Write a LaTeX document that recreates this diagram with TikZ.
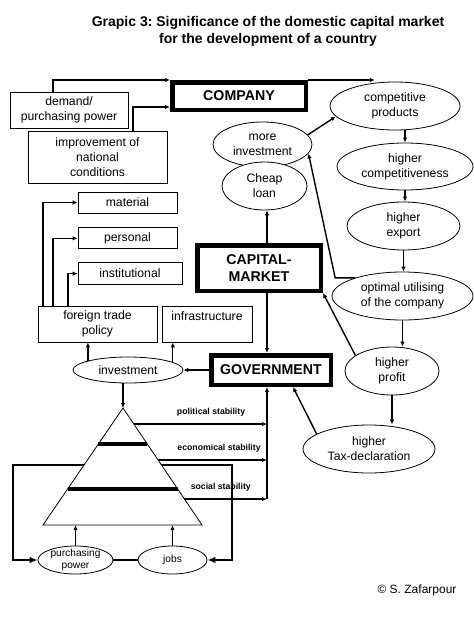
\documentclass[tikz,border=0pt]{standalone}
\usepackage{fontspec}
\setmainfont{Liberation Sans}
\usetikzlibrary{arrows.meta,positioning,shapes.geometric,calc}
\frenchspacing

\begin{document}
\begin{tikzpicture}[x=1pt,y=-1pt,>={Latex[length=5pt,width=4.5pt]},
  box/.style={draw,line width=.8pt,align=center,inner sep=1pt,font=\fontsize{12.2}{15}\selectfont},
  bigbox/.style={draw,line width=4.5pt,align=center,inner sep=0pt,font=\fontsize{14.2}{17}\selectfont\bfseries},
  ovaltext/.style={align=center,font=\fontsize{12.2}{15}\selectfont},
  oval/.style={ellipse,draw,fill=white,line width=.8pt,inner sep=0pt,label={[ovaltext]center:#1}},
  conn/.style={->,line width=1.4pt},
  stab/.style={font=\fontsize{8.7}{10}\selectfont\bfseries,above=6pt,inner sep=1pt},
  feedback/.style={<->,>={Latex[length=8pt,width=6.5pt]},line width=2.6pt}]
\path[use as bounding box,fill=white] (0,0) rectangle (474,632);
\node[font=\fontsize{14}{17}\selectfont\bfseries,align=center] (title) at (268,31.5)
  {Grapic 3: Significance of the domestic capital market\\for the development of a country};
% main actors
\node[bigbox,minimum width=133.5pt,minimum height=27.5pt] (company) at (239,96) {COMPANY};
\node[bigbox,minimum width=123.5pt,minimum height=45.5pt] (capital) at (259,268) {CAPITAL-\\MARKET};
\node[bigbox,minimum width=119.5pt,minimum height=29.5pt] (gov) at (271,370) {GOVERNMENT};
% left boxes
\node[box,minimum width=118pt,minimum height=36pt] (demand) at (69,110) {demand/\\purchasing power};
\node[box,minimum width=139pt,minimum height=52pt] (improve) at (97.5,157) {improvement of\\national\\conditions};
\node[box,minimum width=99pt,minimum height=21pt] (material) at (127.5,202.5) {material};
\node[box,minimum width=99pt,minimum height=21pt,below=14pt of material.south west,anchor=north west] (personal) {personal};
\node[box,minimum width=104pt,minimum height=22pt,below=13pt of personal.south west,anchor=north west] (institut) {institutional};
\node[box,minimum width=119pt,minimum height=36pt] (foreign) at (97.5,324) {foreign trade\\policy};
\node[box,minimum width=90pt,minimum height=36pt] (infra) at (207,324) {infrastructure\\~};
% effects
\node[oval={competitive\\products},minimum width=130pt,minimum height=48pt] (comp) at (395,106) {};
\node[oval={more\\investment},minimum width=99pt,minimum height=45pt] (more) at (262.5,144.5) {};
\node[oval={Cheap\\loan},minimum width=85pt,minimum height=48pt] (cheap) at (264.5,186) {};
\node[oval={higher\\competitiveness},minimum width=136pt,minimum height=47pt] (compet) at (405,166.5) {};
\node[oval={higher\\export},minimum width=113pt,minimum height=48pt] (export) at (403.5,226) {};
\node[oval={optimal utilising\\of the company},minimum width=141pt,minimum height=48pt] (optimal) at (402.5,296) {};
\node[oval={higher\\profit},minimum width=94pt,minimum height=48pt] (profit) at (392,371) {};
\node[oval={higher\\Tax-declaration},minimum width=132pt,minimum height=48pt] (tax) at (369,449) {};
\node[oval=investment,minimum width=110pt,minimum height=26pt] (invest) at (128,370) {};
\begin{scope}[ovaltext/.style={align=center,font=\fontsize{10.2}{12.5}\selectfont}]
\node[oval={purchasing\\power},minimum width=75pt,minimum height=28pt] (pp) at (75.5,560) {};
\node[oval=jobs,minimum width=69pt,minimum height=28pt] (jobs) at (172.5,560) {};
\end{scope}
\coordinate (spine) at (267,0);
\coordinate (apex) at (123,408); \coordinate (baseL) at (43,525); \coordinate (baseR) at (202,525);
\coordinate (loopL) at (13,465); \coordinate (loopR) at (232,465);
% feedback loop runs behind the pyramid
\draw[feedback] (pp.west) -| (loopL) -- (loopR) |- (jobs.east);
\draw[line width=.8pt,fill=white] (apex) -- (baseL) -- (baseR) -- cycle;
\draw[line width=4pt] ($(apex)!.308!(baseL)$) -- ($(apex)!.308!(baseR)$);
\draw[line width=4pt] ($(apex)!.692!(baseL)$) -- ($(apex)!.692!(baseR)$);
\draw[conn] ($(apex)!.137!(baseR)$) coordinate (s1) -- (s1 -| spine) node[stab,pos=.58] {political stability};
\draw[conn] ($(apex)!.444!(baseR)$) coordinate (s2) -- (s2 -| spine) node[stab,pos=.56] {economical stability};
\draw[conn] ($(apex)!.778!(baseR)$) coordinate (s3) -- (s3 -| spine) node[stab,pos=.44] {social stability};
\draw[conn,line width=1.8pt] (s3 -| spine) -- (gov.south -| spine);
% company side
\draw[conn] ([xshift=-16pt]demand.north) |- (company.north west);
\draw[conn] (company.north east) -- (company.north east -| comp.131);
\draw[conn] ([xshift=35.5pt]improve.north) |- ([yshift=-11pt]company.west);
\draw[conn] (more.12) -- (comp.190);
\draw[conn] (comp.south -| compet.north) -- (compet.north);
\draw[conn] (compet.south) -- (compet.south |- export.north);
\draw[conn] (export.south) -- (export.south |- optimal.north);
\draw[conn] (optimal.south) -- (optimal.south |- profit.north);
\draw[conn] (profit.south) -- (profit.south |- tax.north);
\draw[conn] (optimal.159) -- ++(-20,0) -- (more.-11);
\draw[conn] (profit.157) -- (capital.south east);
\draw[conn] (tax.164) -- ([xshift=22pt]gov.south);
% capital market and government
\draw[conn,line width=1.8pt] (capital.north -| spine) -- (cheap.south -| spine);
\draw[conn,line width=1.8pt] (capital.south -| spine) -- (gov.north -| spine);
\draw[conn] (gov.west) -- (invest.east);
\draw[conn] (invest.167) -- (invest.167 |- foreign.south);
\draw[conn] (invest.10) -- (invest.10 |- infra.south);
\draw[conn] ([xshift=-54.5pt]foreign.north) |- (material.west);
\draw[conn] ([xshift=-44.5pt]foreign.north) |- (personal.west);
\draw[conn] ([xshift=-29.5pt]foreign.north) |- (institut.west);
\draw[conn] (invest.south -| apex) -- (apex);
\draw[conn] (pp.north) -- (pp.north |- baseL);
\draw[conn] (jobs.north) -- (jobs.north |- baseL);
\draw[line width=1.5pt] (pp.east) -- (jobs.west);
\node[font=\fontsize{12}{14}\selectfont] (copy) at (417,590) {© S. Zafarpour};
\end{tikzpicture}
\end{document}
